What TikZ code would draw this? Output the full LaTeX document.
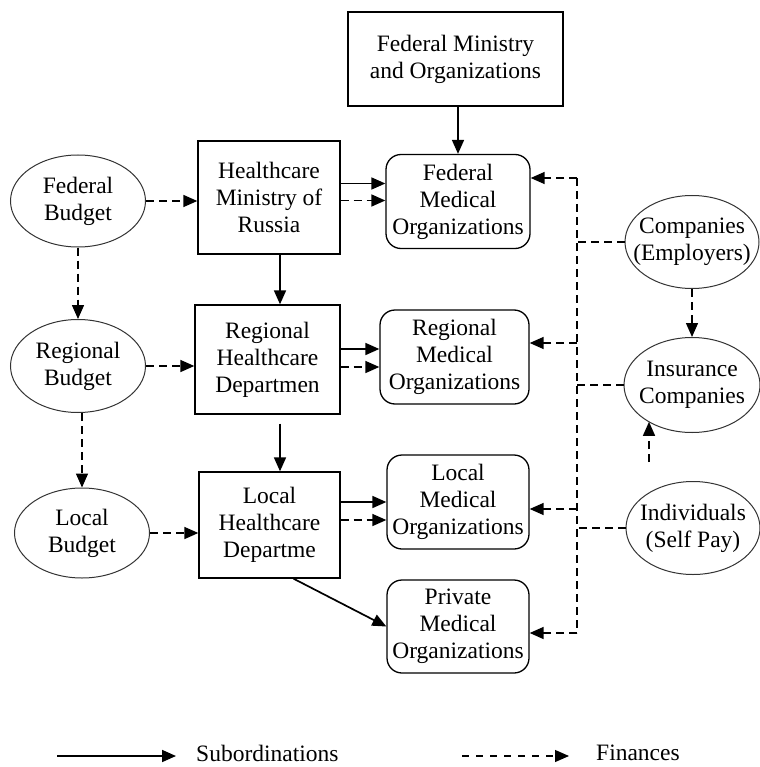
\documentclass[tikz,border=0pt]{standalone}
\usepackage{fontspec}
\setmainfont{Liberation Serif}
\usetikzlibrary{arrows.meta,shapes.geometric}
\tikzset{
  hcstage/.style={
    draw,
    line width=1.3pt,
    align=center,
    inner sep=2pt,
    font=\fontsize{23.5}{27}\selectfont
  },
  hcbox/.style={hcstage,rectangle},
  hcorg/.style={hcstage,rectangle,rounded corners=15pt},
  hcfund/.style={hcstage,ellipse,line width=1pt,draw=black!80,
                 inner xsep=-20pt,inner ysep=0pt},
  hcsub/.style={-{Triangle[length=14pt,width=12pt]},line width=1.7pt},
  hcfinline/.style={line width=1.5pt,dash pattern=on 8pt off 5pt},
  hcfin/.style={hcfinline,-{Triangle[length=14pt,width=12pt]}},
  hclabel/.style={font=\fontsize{23.5}{27}\selectfont,inner sep=0pt,anchor=west}
}
\begin{document}
\begin{tikzpicture}[x=1pt,y=-1pt]
  \useasboundingbox (0,0) rectangle (759,767);

  % top level
  \node[hcbox,minimum width=215,minimum height=94] (fedmin) at (455.5,59)
    {Federal Ministry\\and Organizations};

  % budgets
  \node[hcfund,minimum width=135,minimum height=92] (fedbudget) at (78,201)
    {Federal\\Budget};
  \node[hcfund,minimum width=135,minimum height=93] (regbudget) at (78,366)
    {Regional\\Budget};
  \node[hcfund,minimum width=135,minimum height=90] (locbudget) at (82,533)
    {Local\\Budget};

  % healthcare administration
  \node[hcbox,minimum width=142,minimum height=113] (hcmin) at (269,197.5)
    {Healthcare\\Ministry of\\Russia};
  \node[hcbox,minimum width=145,minimum height=109] (reghc) at (267.5,359.5)
    {Regional\\Healthcare\\Departmen};
  \node[hcbox,minimum width=141,minimum height=106] (lochc) at (269.5,525)
    {Local\\Healthcare\\Departme};

  % medical organizations
  \node[hcorg,minimum width=144,minimum height=94] (fedmed) at (458,201.5)
    {Federal\\Medical\\Organizations};
  \node[hcorg,minimum width=149,minimum height=94] (regmed) at (454.5,357)
    {Regional\\Medical\\Organizations};
  \node[hcorg,minimum width=142,minimum height=94] (locmed) at (458,502)
    {Local\\Medical\\Organizations};
  \node[hcorg,minimum width=142,minimum height=93] (privmed) at (458,626.5)
    {Private\\Medical\\Organizations};

  % payers
  \node[hcfund,minimum width=134,minimum height=93] (companies) at (692,242)
    {Companies\\(Employers)};
  \node[hcfund,minimum width=136,minimum height=95] (insurance) at (692,385)
    {Insurance\\Companies};
  \node[hcfund,minimum width=134,minimum height=93] (indiv) at (693,528)
    {Individuals\\(Self Pay)};

  \coordinate (ttop) at (577,178);
  \coordinate (tbot) at (577,633);
  \coordinate (selfpay) at (649,462);

  % subordination
  \draw[hcsub] (fedmin.south -| fedmed.north) -- (fedmed.north);
  \draw[hcsub] ([xshift=11pt]hcmin.south) -- ([xshift=11pt]hcmin.south |- reghc.north);
  \draw[hcsub,shorten <=9pt] ([xshift=12.5pt]reghc.south) -- ([xshift=12.5pt]reghc.south |- lochc.north);
  \draw[hcsub] ([yshift=14pt]hcmin.east) -- ([yshift=14pt]hcmin.east -| fedmed.west);
  \draw[hcsub] ([yshift=10.5pt]reghc.east) -- ([yshift=10.5pt]reghc.east -| regmed.west);
  \draw[hcsub] ([yshift=23pt]lochc.east) -- ([yshift=23pt]lochc.east -| locmed.west);
  \draw[hcsub] ([xshift=24pt]lochc.south) -- (privmed.west);

  % finances
  \draw[hcfin] (fedbudget.east) -- (fedbudget.east -| hcmin.west);
  \draw[hcfin] (regbudget.east) -- (regbudget.east -| reghc.west);
  \draw[hcfin] (locbudget.east) -- (locbudget.east -| lochc.west);
  \draw[hcfin] (fedbudget.south) -- (regbudget.north);
  \draw[hcfin] (regbudget.south -| locbudget.north) -- (locbudget.north);
  \draw[hcfin] ([yshift=-3pt]hcmin.east) -- ([yshift=-3pt]hcmin.east -| fedmed.west);
  \draw[hcfin] ([yshift=-7.5pt]reghc.east) -- ([yshift=-7.5pt]reghc.east -| regmed.west);
  \draw[hcfin] ([yshift=5pt]lochc.east) -- ([yshift=5pt]lochc.east -| locmed.west);

  \draw[hcfinline] (ttop) -- (tbot);
  \draw[hcfinline] (companies.west) -- (companies.west -| ttop);
  \draw[hcfinline] (insurance.west) -- (insurance.west -| ttop);
  \draw[hcfinline] (indiv.west) -- (indiv.west -| ttop);
  \draw[hcfin] (ttop) -- (ttop -| fedmed.east);
  \draw[hcfin] ([yshift=14pt]regmed.east -| ttop) -- ([yshift=14pt]regmed.east);
  \draw[hcfin] ([yshift=-7pt]locmed.east -| ttop) -- ([yshift=-7pt]locmed.east);
  \draw[hcfin] (tbot) -- (tbot -| privmed.east);
  \draw[hcfin] (companies.south) -- (companies.south |- insurance.north);
  \draw[hcfin] (selfpay) -- (selfpay |- insurance.220);

  % legend
  \node[hclabel] (subtext) at (196,753) {Subordinations};
  \node[hclabel] (fintext) at (596,753) {Finances};
  \coordinate (subfrom) at (57,756);
  \coordinate (finfrom) at (462,756);
  \draw[hcsub,shorten >=20pt] (subfrom) -- (subtext.west |- subfrom);
  \draw[hcfin,line width=1.2pt,dash pattern=on 7pt off 7pt,shorten >=27pt] (finfrom) -- (fintext.west |- finfrom);
\end{tikzpicture}
\end{document}
